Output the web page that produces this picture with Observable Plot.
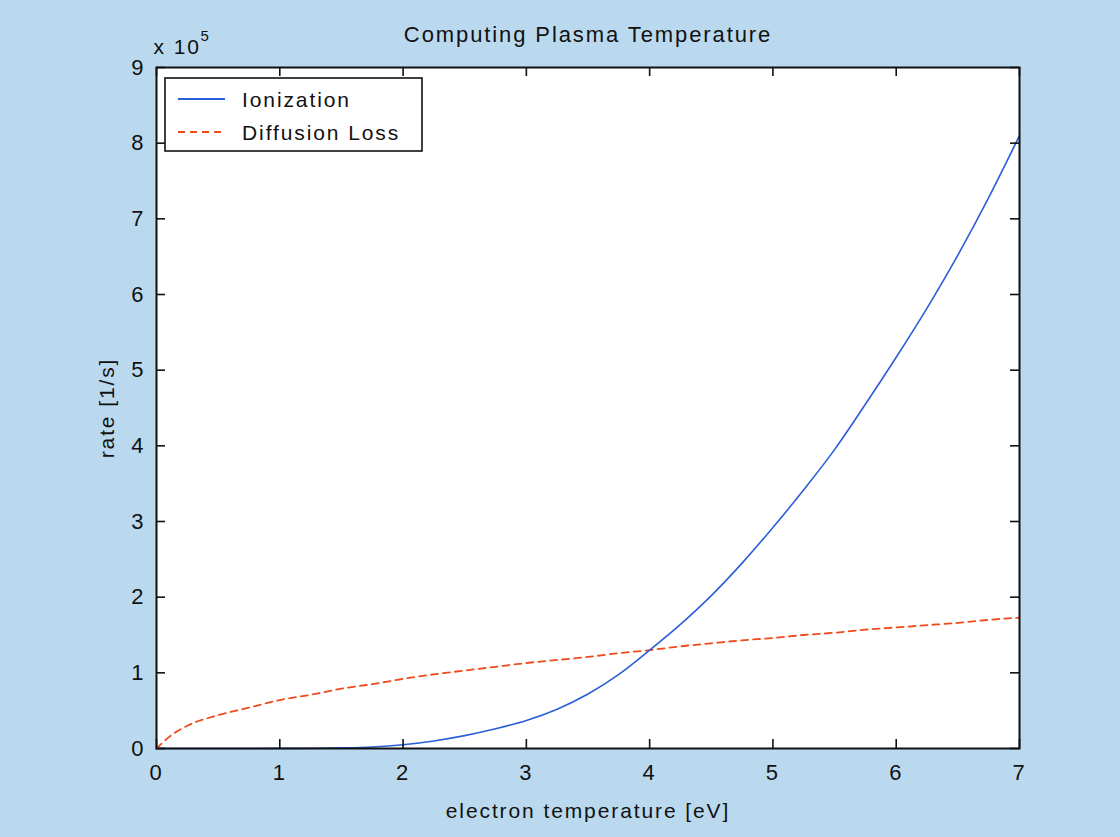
<!DOCTYPE html>
<html>
<head>
<meta charset="utf-8">
<script src="https://cdn.jsdelivr.net/npm/d3@7"></script>
<script src="https://cdn.jsdelivr.net/npm/@observablehq/plot@0.6"></script>
<style>
  html, body { margin: 0; padding: 0; background: #bbd9ee; }
  #chart svg { display: block; }
</style>
</head>
<body>
<div id="chart"></div>
<script>
// Electron temperature grid [eV]
const temperature = [0, 0.1, 0.25, 0.5, 0.75, 1, 1.25, 1.5, 1.75, 2, 2.25, 2.5, 2.75, 3, 3.25, 3.5, 3.75, 4,
  4.25, 4.5, 4.75, 5, 5.25, 5.5, 5.75, 6, 6.25, 6.5, 6.75, 7];
// Ionization rate [1/s], in units of 10^5
const ionization = [0, 0, 0, 0, 0, 0.001, 0.003, 0.008, 0.02, 0.05, 0.1, 0.17, 0.26, 0.37, 0.52, 0.72, 0.98, 1.3,
  1.64, 2.02, 2.45, 2.92, 3.42, 3.95, 4.55, 5.17, 5.82, 6.52, 7.28, 8.1];
// Diffusion loss rate [1/s], in units of 10^5
const diffusionLoss = [0, 0.15, 0.3, 0.44, 0.54, 0.64, 0.71, 0.79, 0.85, 0.92, 0.98, 1.03, 1.08, 1.13, 1.17, 1.21,
  1.26, 1.3, 1.35, 1.39, 1.43, 1.46, 1.5, 1.53, 1.57, 1.6, 1.63, 1.66, 1.7, 1.73];

const xTicks = [0, 1, 2, 3, 4, 5, 6, 7];
const yTicks = [0, 1, 2, 3, 4, 5, 6, 7, 8, 9];
const seriesNames = ["Ionization", "Diffusion Loss"];
const seriesColors = ["#2b5fd8", "#ef4a1c"];

const titleText = "Computing Plasma Temperature";
const xLabel = "electron temperature [eV]";
const yLabel = "rate [1/s]";
const exponentBase = "x 10";
const exponent = "5";

const W = 1120, H = 837;
const mL = 156, mR = 101, mT = 67, mB = 89;
const frameW = W - mL - mR, frameH = H - mT - mB;
const tickLen = 9;
const font = "'Liberation Sans', Arial, Helvetica, sans-serif";

const ionData = temperature.map((t, i) => ({t, rate: ionization[i]}));
const diffData = temperature.map((t, i) => ({t, rate: diffusionLoss[i]}));

const chart = Plot.plot({
  width: W,
  height: H,
  marginLeft: mL,
  marginRight: mR,
  marginTop: mT,
  marginBottom: mB,
  x: {domain: [0, 7]},
  y: {domain: [0, 9]},
  style: {background: "#bbd9ee", fontFamily: font, fontSize: "21px", color: "#111", letterSpacing: "1.9px"},
  marks: [
    Plot.frame({fill: "white", stroke: null}),
    Plot.line(diffData, {x: "t", y: "rate", stroke: seriesColors[1], strokeWidth: 1.8, strokeDasharray: "7,5", curve: "monotone-x"}),
    Plot.line(ionData, {x: "t", y: "rate", stroke: seriesColors[0], strokeWidth: 1.6, curve: "monotone-x"}),
    // inward ticks on all four sides
    Plot.tickX(xTicks, {x: d => d, insetTop: frameH - tickLen, stroke: "#111", strokeWidth: 1.6}),
    Plot.tickX(xTicks, {x: d => d, insetBottom: frameH - tickLen, stroke: "#111", strokeWidth: 1.6}),
    Plot.tickY(yTicks, {y: d => d, insetRight: frameW - tickLen, stroke: "#111", strokeWidth: 1.6}),
    Plot.tickY(yTicks, {y: d => d, insetLeft: frameW - tickLen, stroke: "#111", strokeWidth: 1.6}),
    Plot.frame({stroke: "#111", strokeWidth: 2}),
    Plot.axisX(xTicks, {anchor: "bottom", tickSize: 0, tickPadding: 16, label: null, fontSize: 22, tickFormat: d => String(d)}),
    Plot.axisY(yTicks, {anchor: "left", tickSize: 0, tickPadding: 11, label: null, fontSize: 22, tickFormat: d => String(d)}),
    Plot.text([titleText], {frameAnchor: "top", dy: -26, lineAnchor: "bottom", textAnchor: "middle", fontSize: 22}),
    Plot.text([xLabel], {frameAnchor: "bottom", dy: 69, lineAnchor: "bottom", textAnchor: "middle", fontSize: 21}),
    Plot.text([yLabel], {frameAnchor: "left", dx: -49, rotate: -90, textAnchor: "middle", fontSize: 21}),
    Plot.text([exponentBase], {frameAnchor: "top-left", dx: -3, dy: -14, lineAnchor: "bottom", textAnchor: "start", fontSize: 21}),
    Plot.text([exponent], {frameAnchor: "top-left", dx: 44, dy: -27, lineAnchor: "bottom", textAnchor: "start", fontSize: 15})
  ]
});

document.getElementById("chart").appendChild(chart);

// Legend box inside the upper-left corner of the axes
const svg = d3.select(chart);
const lg = svg.append("g").attr("transform", `translate(${mL + 9},${mT + 11})`);
lg.append("rect").attr("width", 257).attr("height", 73)
  .attr("fill", "white").attr("stroke", "#111").attr("stroke-width", 1.6);
const dashes = [null, "7,5"];
seriesNames.forEach((name, i) => {
  const y = 21 + i * 33;
  lg.append("line").attr("x1", 13).attr("x2", 60).attr("y1", y).attr("y2", y)
    .attr("stroke", seriesColors[i]).attr("stroke-width", 1.8)
    .attr("stroke-dasharray", dashes[i]);
  lg.append("text").attr("x", 77).attr("y", y + 8)
    .attr("text-anchor", "start")
    .attr("font-family", font).attr("font-size", 21).attr("letter-spacing", "1.9px")
    .attr("fill", "#111").text(name);
});
</script>
</body>
</html>
